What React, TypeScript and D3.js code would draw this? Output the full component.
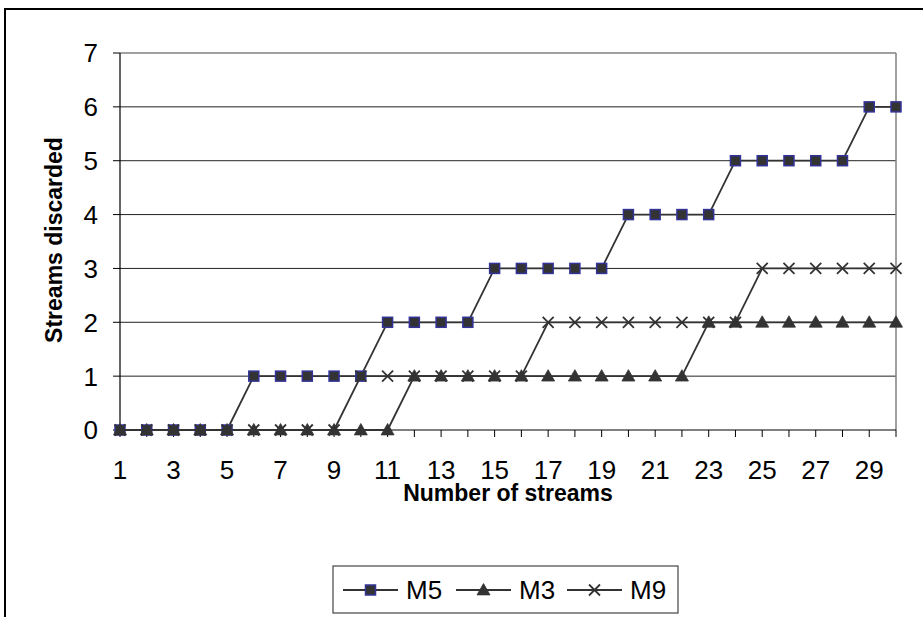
import React from "react";
import * as d3 from "d3";

const streams: number[] = d3.range(1, 31);
const m5: number[] = [0, 0, 0, 0, 0, 1, 1, 1, 1, 1, 2, 2, 2, 2, 3, 3, 3, 3, 3, 4, 4, 4, 4, 5, 5, 5, 5, 5, 6, 6];
const m3: number[] = [0, 0, 0, 0, 0, 0, 0, 0, 0, 0, 0, 1, 1, 1, 1, 1, 1, 1, 1, 1, 1, 1, 2, 2, 2, 2, 2, 2, 2, 2];
const m9: number[] = [0, 0, 0, 0, 0, 0, 0, 0, 0, 1, 1, 1, 1, 1, 1, 1, 2, 2, 2, 2, 2, 2, 2, 2, 3, 3, 3, 3, 3, 3];
const yTicks: number[] = [0, 1, 2, 3, 4, 5, 6, 7];
const xLabels: number[] = [1, 3, 5, 7, 9, 11, 13, 15, 17, 19, 21, 23, 25, 27, 29];
const seriesNames: string[] = ["M5", "M3", "M9"];

const W = 923;
const H = 617;
const FONT = "Arial, 'Liberation Sans', sans-serif";

function Marker({ kind, x, y }: { kind: string; x: number; y: number }) {
  if (kind === "M5") {
    return <rect x={x - 5} y={y - 5} width={10} height={10} fill="#333333" stroke="#333399" strokeWidth={1.5} />;
  }
  if (kind === "M3") {
    const s = 6.5;
    return <path d={`M${x},${y - s} L${x + s},${y + s * 0.75} L${x - s},${y + s * 0.75} Z`} fill="#333333" stroke="#333333" strokeWidth={0.8} />;
  }
  const s = 5.5;
  return (
    <path d={`M${x - s},${y - s} L${x + s},${y + s} M${x - s},${y + s} L${x + s},${y - s}`} stroke="#333333" strokeWidth={1.8} fill="none" />
  );
}

export default function App() {
  const x = d3.scaleLinear().domain([1, 30]).range([120, 896]);
  const y = d3.scaleLinear().domain([0, 7]).range([430, 53]);
  const data: Record<string, number[]> = { M5: m5, M3: m3, M9: m9 };
  const line = d3
    .line<number>()
    .x((_, i) => x(streams[i]))
    .y((d) => y(d));

  const legendItems = [
    { name: seriesNames[0], x0: 343 },
    { name: seriesNames[1], x0: 456 },
    { name: seriesNames[2], x0: 567 },
  ];

  return (
    <div style={{ position: "absolute", left: 0, top: 0 }}>
      <svg width={W} height={H} style={{ display: "block", background: "#fff" }}>
        <rect x={5} y={9} width={W + 20} height={H + 20} fill="#fff" stroke="#000" strokeWidth={2} />
        {yTicks.slice(1, -1).map((t) => (
          <line key={t} x1={120} x2={896} y1={y(t)} y2={y(t)} stroke="#222" strokeWidth={1} />
        ))}
        <line x1={120} x2={896} y1={y(7)} y2={y(7)} stroke="#808080" strokeWidth={1.5} />
        <line x1={896} x2={896} y1={y(7)} y2={y(0)} stroke="#808080" strokeWidth={1.5} />
        <line x1={120} x2={120} y1={y(7)} y2={y(0)} stroke="#000" strokeWidth={1.2} />
        <line x1={120} x2={896} y1={y(0)} y2={y(0)} stroke="#000" strokeWidth={1.2} />
        {yTicks.map((t) => (
          <g key={t}>
            <line x1={113} x2={120} y1={y(t)} y2={y(t)} stroke="#000" strokeWidth={1} />
            <text x={98} y={y(t)} dy="0.36em" textAnchor="end" fontFamily={FONT} fontSize={26}>
              {t}
            </text>
          </g>
        ))}
        {streams.map((s) => (
          <line key={s} x1={x(s)} x2={x(s)} y1={y(0)} y2={y(0) + 7} stroke="#000" strokeWidth={1} />
        ))}
        {xLabels.map((s) => (
          <text key={s} x={x(s)} y={479} textAnchor="middle" fontFamily={FONT} fontSize={26}>
            {s}
          </text>
        ))}
        {seriesNames.map((n) => (
          <g key={n}>
            <path d={line(data[n]) || ""} fill="none" stroke="#333333" strokeWidth={1.8} />
            {data[n].map((v, i) => (
              <Marker key={i} kind={n} x={x(streams[i])} y={y(v)} />
            ))}
          </g>
        ))}
        <text x={508} y={501} textAnchor="middle" fontFamily={FONT} fontSize={23} fontWeight="bold">
          Number of streams
        </text>
        <text
          transform={`translate(62,240) rotate(-90)`}
          textAnchor="middle"
          fontFamily={FONT}
          fontSize={23}
          fontWeight="bold"
        >
          Streams discarded
        </text>
        <rect x={333} y={566} width={345} height={47} fill="#fff" stroke="#444" strokeWidth={1.2} />
        {legendItems.map((it) => (
          <g key={it.name}>
            <line x1={it.x0} x2={it.x0 + 55} y1={590} y2={590} stroke="#333333" strokeWidth={1.8} />
            <Marker kind={it.name} x={it.x0 + 27.5} y={590} />
            <text x={it.x0 + 63} y={590} dy="0.36em" fontFamily={FONT} fontSize={26}>
              {it.name}
            </text>
          </g>
        ))}
      </svg>
    </div>
  );
}
